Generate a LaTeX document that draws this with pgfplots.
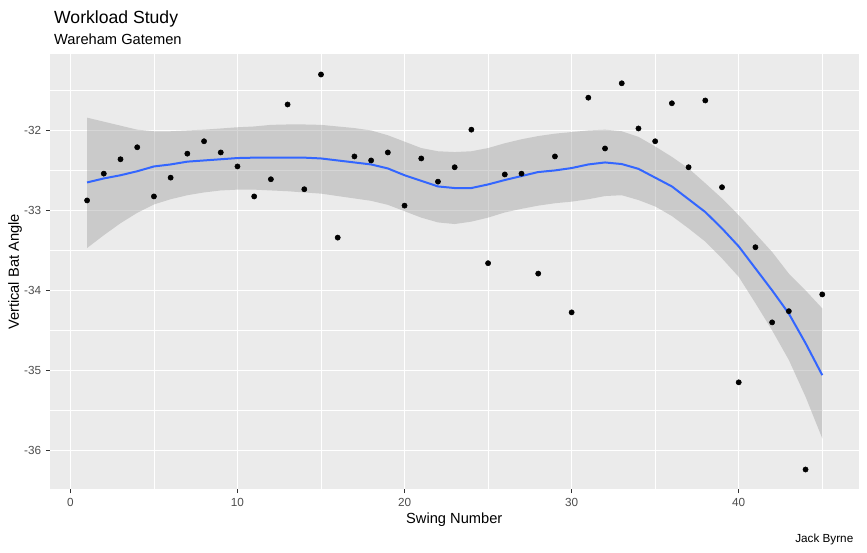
\documentclass[border=0pt]{standalone}
\usepackage{fontspec}
\setmainfont{Liberation Sans}
\usepackage{pgfplots}
\pgfplotsset{compat=1.18}
\usepackage{pgfplotstable}
\definecolor{bgc}{HTML}{EBEBEB}
\definecolor{tickc}{HTML}{333333}
\definecolor{labc}{HTML}{4D4D4D}
\definecolor{smoothc}{HTML}{3366FF}
\definecolor{bandc}{HTML}{999999}

\pgfplotstableread{
x y
1 -32.875
2 -32.54
3 -32.36
4 -32.21
5 -32.825
6 -32.59
7 -32.29
8 -32.135
9 -32.275
10 -32.45
11 -32.825
12 -32.61
13 -31.675
14 -32.735
15 -31.30
16 -33.34
17 -32.325
18 -32.375
19 -32.275
20 -32.94
21 -32.35
22 -32.64
23 -32.46
24 -31.99
25 -33.66
26 -32.55
27 -32.54
28 -33.79
29 -32.325
30 -34.275
31 -31.59
32 -32.225
33 -31.41
34 -31.975
35 -32.135
36 -31.66
37 -32.46
38 -31.625
39 -32.71
40 -35.15
41 -33.46
42 -34.40
43 -34.26
44 -36.24
45 -34.05
}\pts

\pgfplotstableread{
x fit
1 -32.65
2 -32.60
3 -32.56
4 -32.51
5 -32.45
6 -32.425
7 -32.39
8 -32.375
9 -32.36
10 -32.345
11 -32.34
12 -32.34
13 -32.34
14 -32.34
15 -32.35
16 -32.375
17 -32.40
18 -32.425
19 -32.475
20 -32.56
21 -32.63
22 -32.70
23 -32.72
24 -32.72
25 -32.675
26 -32.62
27 -32.57
28 -32.52
29 -32.50
30 -32.47
31 -32.425
32 -32.40
33 -32.42
34 -32.48
35 -32.59
36 -32.70
37 -32.86
38 -33.02
39 -33.225
40 -33.45
41 -33.725
42 -34.00
43 -34.29
44 -34.66
45 -35.06
}\fit

\begin{document}
\begin{tikzpicture}
\useasboundingbox (0,0) rectangle (650.25pt,414.75pt);
\begin{axis}[
  at={(37.125pt,47.625pt)}, anchor=south west,
  width=607.125pt, height=326.25pt, scale only axis,
  xmin=-1.25, xmax=47.2, ymin=-36.49, ymax=-31.05,
  axis background/.style={fill=bgc},
  axis line style={draw=none},
  xtick={0,10,20,30,40}, ytick={-36,-35,-34,-33,-32},
  minor xtick={5,15,25,35,45}, minor ytick={-35.5,-34.5,-33.5,-32.5,-31.5},
  grid=both,
  major grid style={white, line width=1.07pt},
  minor grid style={white, line width=0.53pt},
  tick pos=left, tick align=outside,
  major tick length=2.75pt, minor tick length=0pt,
  major tick style={draw=tickc, line width=1.07pt},
  minor tick style={draw=none},
  ticklabel style={font=\fontsize{8.8}{10}\selectfont, text=labc},
  /pgf/number format/assume math mode=true,
]
\addplot[only marks, mark=*, mark size=1.95pt, mark options={fill=black, draw=none}] table[x=x,y=y] {\pts};
\addplot[fill=bandc, fill opacity=0.4, draw=none] coordinates {
(1,-31.84) (2,-31.89) (3,-31.94) (4,-31.99) (5,-32.01) (6,-32.01) (7,-32.00) (8,-31.99) (9,-31.975) (10,-31.96)
(11,-31.95) (12,-31.93) (13,-31.925) (14,-31.925) (15,-31.93) (16,-31.95) (17,-31.97) (18,-32.00) (19,-32.06) (20,-32.14)
(21,-32.22) (22,-32.26) (23,-32.27) (24,-32.26) (25,-32.22) (26,-32.16) (27,-32.11) (28,-32.07) (29,-32.04) (30,-32.02)
(31,-32.00) (32,-31.99) (33,-32.01) (34,-32.08) (35,-32.20) (36,-32.33) (37,-32.475) (38,-32.66) (39,-32.85) (40,-33.06)
(41,-33.29) (42,-33.52) (43,-33.79) (44,-34.00) (45,-34.225)
(45,-35.85) (44,-35.33) (43,-34.87) (42,-34.50) (41,-34.16) (40,-33.83) (39,-33.60) (38,-33.39) (37,-33.225) (36,-33.07)
(35,-32.95) (34,-32.87) (33,-32.81) (32,-32.82) (31,-32.86) (30,-32.89) (29,-32.91) (28,-32.94) (27,-32.98) (26,-33.025)
(25,-33.09) (24,-33.14) (23,-33.17) (22,-33.15) (21,-33.09) (20,-33.01) (19,-32.93) (18,-32.88) (17,-32.85) (16,-32.82)
(15,-32.79) (14,-32.775) (13,-32.76) (12,-32.75) (11,-32.74) (10,-32.74) (9,-32.75) (8,-32.775) (7,-32.81) (6,-32.86)
(5,-32.925) (4,-33.03) (3,-33.16) (2,-33.31) (1,-33.47)
} -- cycle;
\addplot[smoothc, line width=1.5pt, mark=none] table[x=x,y=fit] {\fit};
\end{axis}
\node[anchor=base west, font=\fontsize{13.2}{15}\selectfont] at (37.1pt,397.3pt) {Workload Study};
\node[anchor=base west, font=\fontsize{11}{13}\selectfont] at (37.1pt,381.2pt) {Wareham Gatemen};
\node[anchor=base, font=\fontsize{11}{13}\selectfont] at (340.7pt,21.75pt) {Swing Number};
\node[anchor=base, rotate=90, font=\fontsize{11}{13}\selectfont] at (14.25pt,210.75pt) {Vertical Bat Angle};
\node[anchor=base east, font=\fontsize{8.8}{10}\selectfont] at (643.5pt,7.5pt) {Jack Byrne};
\end{tikzpicture}
\end{document}
